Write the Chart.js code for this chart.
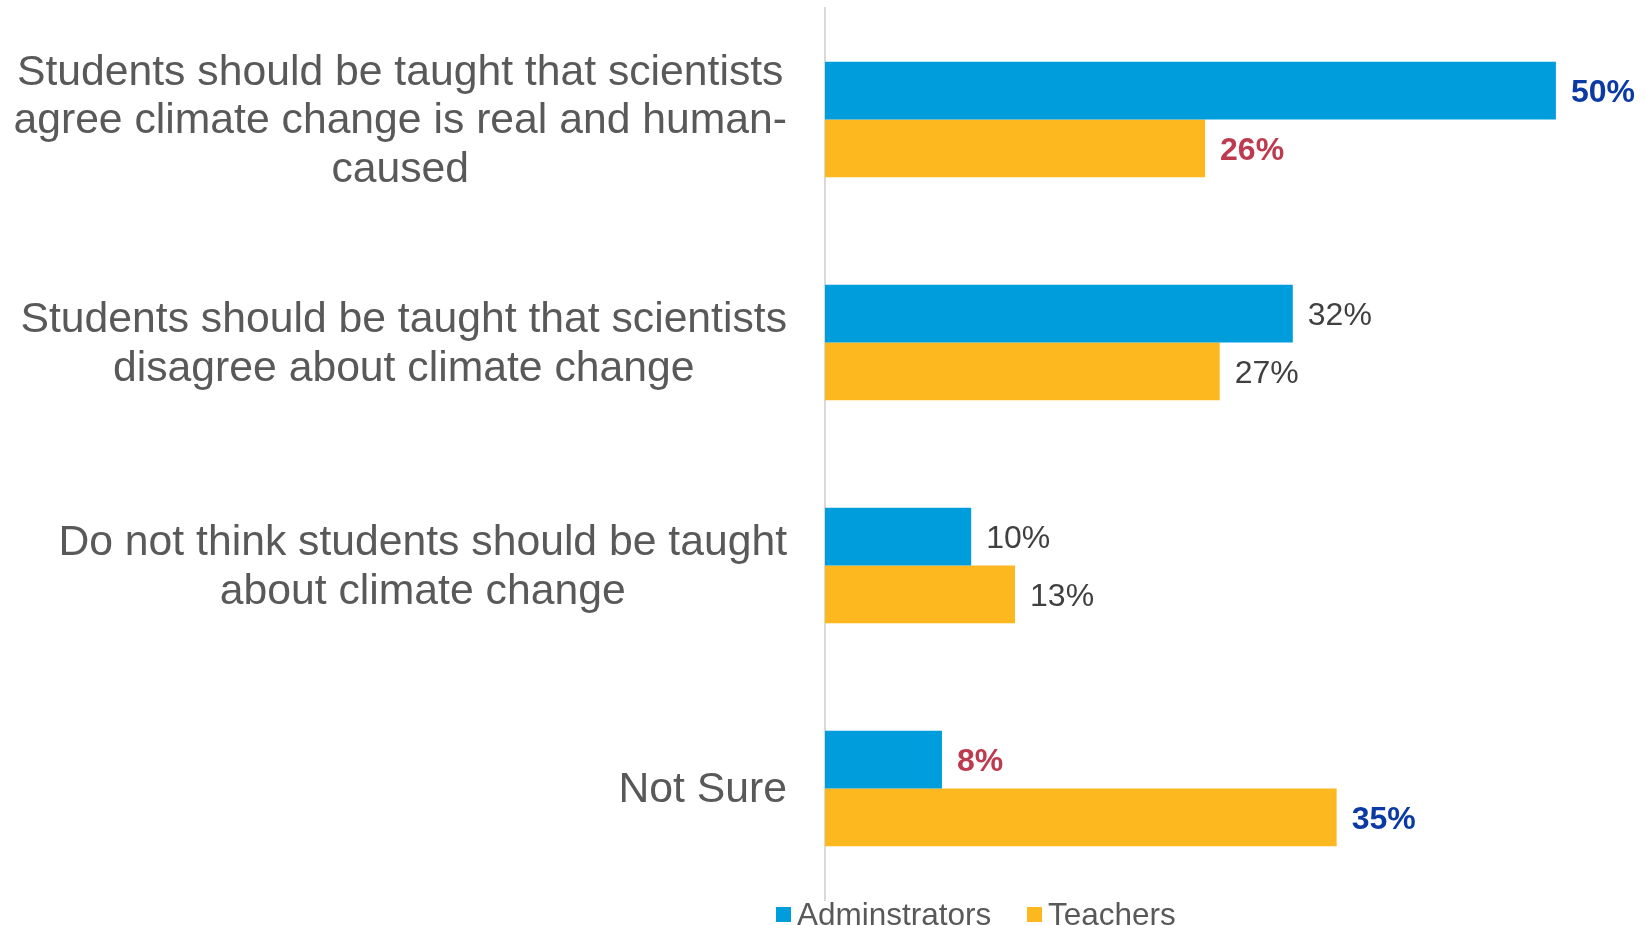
<!DOCTYPE html>
<html>
<head>
<meta charset="utf-8">
<script src="https://cdn.jsdelivr.net/npm/chart.js@4/dist/chart.umd.min.js"></script>
<style>
  html, body { margin: 0; padding: 0; background: #fff; }
  #wrap { position: relative; width: 1645px; height: 925px; }
</style>
</head>
<body>
<div id="wrap"><canvas id="chart"></canvas></div>
<script>
const categories = [
    ['Students should be taught that scientists', 'agree climate change is real and human-', 'caused'],
    ['Students should be taught that scientists', 'disagree about climate change'],
    ['Do not think students should be taught', 'about climate change'],
    ['Not Sure']
];
const seriesNames = ['Adminstrators', 'Teachers'];
const administrators = [50, 32, 10, 8];
const teachers = [26, 27, 13, 35];

const colors = ['#009ddc', '#fdb71f'];
// which value labels are called out in bold, and in which colour
const callouts = {
    '0-0': '#0b3aa4', '1-0': '#be3a4f',
    '0-3': '#be3a4f', '1-3': '#0b3aa4'
};

const FONT = "'Liberation Sans', Arial, sans-serif";

const valueLabels = {
    id: 'valueLabels',
    afterDatasetsDraw(chart) {
        const ctx = chart.ctx;
        ctx.save();
        ctx.textBaseline = 'middle';
        ctx.textAlign = 'left';
        chart.data.datasets.forEach((ds, di) => {
            chart.getDatasetMeta(di).data.forEach((bar, i) => {
                const hi = callouts[di + '-' + i];
                ctx.font = (hi ? 'bold ' : '') + '32px ' + FONT;
                ctx.fillStyle = hi || '#404040';
                ctx.fillText(ds.data[i] + '%', bar.x + 15, bar.y + 3);
            });
        });
        ctx.restore();
    }
};

const categoryLabels = {
    id: 'categoryLabels',
    afterDraw(chart) {
        const ctx = chart.ctx;
        const y = chart.scales.y;
        const right = y.right - 38;
        const lineH = 48.7;
        ctx.save();
        ctx.font = '42.7px ' + FONT;
        ctx.fillStyle = '#595959';
        ctx.textAlign = 'center';
        ctx.textBaseline = 'middle';
        categories.forEach((lines, i) => {
            const widest = Math.max(...lines.map(l => ctx.measureText(l).width));
            const cx = right - widest / 2;
            const cy = y.getPixelForValue(i);
            const top = cy - (lines.length - 1) * lineH / 2;
            lines.forEach((l, k) => ctx.fillText(l, cx, top + k * lineH + 2));
        });
        ctx.restore();
    }
};

const bottomLegend = {
    id: 'bottomLegend',
    afterDraw(chart) {
        const ctx = chart.ctx;
        const starts = [776, 1027];
        const cy = 915;
        ctx.save();
        ctx.font = '31.5px ' + FONT;
        ctx.textBaseline = 'middle';
        ctx.textAlign = 'left';
        chart.data.datasets.forEach((ds, i) => {
            ctx.fillStyle = ds.backgroundColor;
            ctx.fillRect(starts[i], cy - 8, 15, 15);
            ctx.fillStyle = '#595959';
            ctx.fillText(ds.label, starts[i] + 21, cy + 1);
        });
        ctx.restore();
    }
};

new Chart(document.getElementById('chart'), {
    type: 'bar',
    data: {
        labels: categories,
        datasets: [
            { label: seriesNames[0], data: administrators, backgroundColor: colors[0] },
            { label: seriesNames[1], data: teachers, backgroundColor: colors[1] }
        ]
    },
    options: {
        indexAxis: 'y',
        responsive: true,
        maintainAspectRatio: false,
        animation: false,
        layout: { padding: { top: 8, bottom: 25, right: 16, left: 0 } },
        datasets: {
            bar: { categoryPercentage: 0.519, barPercentage: 1.0, borderWidth: 0 }
        },
        plugins: {
            legend: { display: false },
            tooltip: { enabled: true, intersect: false, mode: 'index' }
        },
        scales: {
            x: {
                min: 0,
                max: 55,
                display: false
            },
            y: {
                grid: { display: false },
                border: { display: true, color: '#d9d9d9', width: 2 },
                ticks: { display: false },
                afterFit(scale) { scale.width = 825; }
            }
        }
    },
    plugins: [valueLabels, categoryLabels, bottomLegend]
});
</script>
</body>
</html>
